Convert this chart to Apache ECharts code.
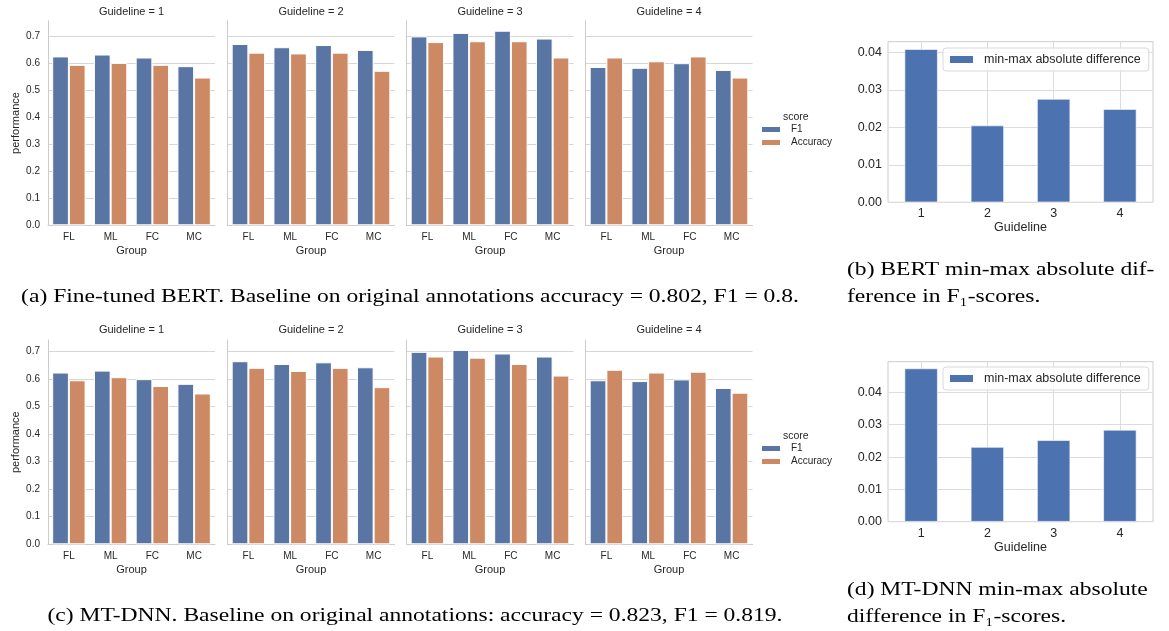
<!DOCTYPE html>
<html>
<head>
<meta charset="utf-8">
<script src="https://cdn.jsdelivr.net/npm/echarts@6/dist/echarts.min.js"></script>
<style>
html,body{margin:0;padding:0;background:#fff;}
#chart{width:1169px;height:631px;}
</style>
</head>
<body>
<div id="chart"></div>
<script>
// ---- data ----
const groups = ['FL', 'ML', 'FC', 'MC'];
const guidelines = ['1', '2', '3', '4'];
const seriesNames = ['F1', 'Accuracy'];
// rows: guideline 1..4, columns: FL, ML, FC, MC
const bertF1 = [
  [0.624, 0.631, 0.620, 0.588],
  [0.670, 0.658, 0.666, 0.648],
  [0.698, 0.711, 0.719, 0.690],
  [0.585, 0.582, 0.599, 0.574]
];
const bertAcc = [
  [0.593, 0.600, 0.593, 0.546],
  [0.638, 0.635, 0.638, 0.571],
  [0.677, 0.680, 0.680, 0.620],
  [0.620, 0.606, 0.624, 0.546]
];
const mtdnnF1 = [
  [0.623, 0.630, 0.599, 0.582],
  [0.664, 0.654, 0.660, 0.642],
  [0.698, 0.705, 0.692, 0.681],
  [0.595, 0.592, 0.598, 0.567]
];
const mtdnnAcc = [
  [0.595, 0.606, 0.574, 0.547],
  [0.640, 0.629, 0.640, 0.570],
  [0.681, 0.677, 0.654, 0.612],
  [0.633, 0.623, 0.626, 0.550]
];
const bertDiff = [0.0409, 0.0205, 0.0276, 0.0249];
const mtdnnDiff = [0.0474, 0.0231, 0.0252, 0.0284];
const diffName = 'min-max absolute difference';
const captionA = '(a) Fine-tuned BERT. Baseline on original annotations accuracy = 0.802, F1 = 0.8.';
const captionB = ['(b) BERT min-max absolute dif-', 'ference in F\u2081-scores.'];
const captionC = '(c) MT-DNN. Baseline on original annotations: accuracy = 0.823, F1 = 0.819.';
const captionD = ['(d) MT-DNN min-max absolute', 'difference in F\u2081-scores.'];

// ---- layout ----
const SANS = 'Liberation Sans, Arial, sans-serif';
const SERIF = 'Liberation Serif, Times New Roman, serif';
const TXT = '#262626';
const GRIDC = '#d6d6d6';
const BLUE = '#5975a4', ORANGE = '#cc8963', PBLUE = '#4c72b0';
const panelLefts = [48, 227.5, 406.5, 585.5];
const panelW = 167;
const rows = [
  {top: 20.7, bottom: 225.3, ymax: 0.756, f1: bertF1, acc: bertAcc, titleY: 12},
  {top: 340, bottom: 544.3, ymax: 0.741, f1: mtdnnF1, acc: mtdnnAcc, titleY: 330}
];
const right = [
  {top: 41.7, bottom: 202.3, ymax: 0.0429, data: bertDiff, legendTop: 48},
  {top: 361.7, bottom: 521.7, ymax: 0.0495, data: mtdnnDiff, legendTop: 367}
];

const grids = [], xAxes = [], yAxes = [], series = [], graphics = [], legends = [];
const isMult = (v, step) => Math.abs(v / step - Math.round(v / step)) < 1e-6;

rows.forEach((row, r) => {
  panelLefts.forEach((left, p) => {
    const gi = grids.length;
    grids.push({left: left, top: row.top, width: panelW, height: row.bottom - row.top, containLabel: false});
    xAxes.push({
      gridIndex: gi, type: 'category', data: groups,
      axisLine: {show: true, lineStyle: {color: '#cccccc', width: 1}},
      axisTick: {show: false},
      axisLabel: {fontSize: 10, color: TXT, fontFamily: SANS, margin: 7},
      splitLine: {show: false},
      name: 'Group', nameLocation: 'middle', nameGap: 20,
      nameTextStyle: {fontSize: 11, color: TXT, fontFamily: SANS}
    });
    yAxes.push({
      gridIndex: gi, type: 'value', min: 0, max: row.ymax, interval: 0.1,
      axisLine: {show: true, lineStyle: {color: '#cccccc', width: 1}},
      axisTick: {show: false},
      axisLabel: {show: p === 0, fontSize: 10, color: TXT, fontFamily: SANS, margin: 8,
        showMaxLabel: false,
        formatter: v => isMult(v, 0.1) ? v.toFixed(1) : ''},
      splitLine: {show: true, showMaxLine: false, lineStyle: {color: GRIDC, width: 1}},
      name: p === 0 ? 'performance' : '', nameLocation: 'middle', nameGap: 27,
      nameTextStyle: {fontSize: 11, color: TXT, fontFamily: SANS}
    });
    series.push({
      type: 'bar', name: seriesNames[0], xAxisIndex: gi, yAxisIndex: gi,
      data: row.f1[p], barGap: '0%', barCategoryGap: '20%',
      itemStyle: {color: BLUE, borderColor: '#ffffff', borderWidth: 1}
    });
    series.push({
      type: 'bar', name: seriesNames[1], xAxisIndex: gi, yAxisIndex: gi,
      data: row.acc[p], barGap: '0%', barCategoryGap: '20%',
      itemStyle: {color: ORANGE, borderColor: '#ffffff', borderWidth: 1}
    });
    graphics.push({
      type: 'text', x: left + panelW / 2, y: row.titleY,
      style: {text: 'Guideline = ' + guidelines[p], fontSize: 11, fontFamily: SANS, fill: TXT,
        align: 'center', verticalAlign: 'middle'}
    });
  });
  const legendTop = r === 0 ? 124.5 : 443.5;
  graphics.push({
    type: 'text', x: 783, y: r === 0 ? 117 : 436,
    style: {text: 'score', fontSize: 10.5, fontFamily: SANS, fill: TXT, align: 'left', verticalAlign: 'middle'}
  });
  legends.push({
    data: seriesNames, orient: 'vertical', left: 755, top: legendTop, padding: [0, 0, 0, 5],
    itemWidth: 20, itemHeight: 7, itemGap: 3, icon: 'rect', selectedMode: false,
    textStyle: {fontSize: 10, color: TXT, fontFamily: SANS, padding: [0, 0, 0, 5]}
  });
});

right.forEach((rc, k) => {
  const gi = grids.length;
  grids.push({left: 888, top: rc.top, width: 265, height: rc.bottom - rc.top, show: true,
    borderColor: '#cccccc', borderWidth: 1, backgroundColor: '#ffffff'});
  xAxes.push({
    gridIndex: gi, type: 'category', data: guidelines,
    axisLine: {show: false}, axisTick: {show: false},
    axisLabel: {fontSize: 12.5, color: TXT, fontFamily: SANS, margin: 5},
    splitLine: {show: true, alignWithLabel: true, lineStyle: {color: '#dcdcdc', width: 1}},
    name: 'Guideline', nameLocation: 'middle', nameGap: 18,
    nameTextStyle: {fontSize: 12.5, color: TXT, fontFamily: SANS}
  });
  yAxes.push({
    gridIndex: gi, type: 'value', min: 0, max: rc.ymax, interval: 0.01,
    axisLine: {show: false}, axisTick: {show: false},
    axisLabel: {fontSize: 12.5, color: TXT, fontFamily: SANS, margin: 6, showMaxLabel: false,
      formatter: v => isMult(v, 0.01) ? v.toFixed(2) : ''},
    splitLine: {show: true, showMaxLine: false, lineStyle: {color: '#dcdcdc', width: 1}}
  });
  series.push({
    type: 'bar', name: diffName, xAxisIndex: gi, yAxisIndex: gi, data: rc.data,
    barWidth: '50%', z: 3,
    itemStyle: {color: PBLUE, borderColor: '#ffffff', borderWidth: 0.6}
  });
  legends.push({
    data: [diffName], left: 943, top: rc.legendTop, padding: [5, 8, 5, 5],
    itemWidth: 25, itemHeight: 9, icon: 'rect', selectedMode: false,
    backgroundColor: 'rgba(255,255,255,0.85)', borderColor: '#d9d9d9', borderWidth: 1, borderRadius: 3,
    textStyle: {fontSize: 12.5, color: TXT, fontFamily: SANS, padding: [0, 0, 0, 5]}
  });
});

// captions
const capStyle = (text, align) => ({text: text, fontSize: 19, fontFamily: SERIF, fill: '#000000',
  align: align, verticalAlign: 'middle'});
const SX = 1.24;
graphics.push({type: 'text', x: 410, y: 297, scaleX: SX, style: capStyle(captionA, 'center')});
graphics.push({type: 'text', x: 847, y: 270, scaleX: SX, style: capStyle(captionB[0], 'left')});
graphics.push({type: 'text', x: 847, y: 297, scaleX: SX, style: capStyle(captionB[1], 'left')});
graphics.push({type: 'text', x: 415, y: 616, scaleX: SX, style: capStyle(captionC, 'center')});
graphics.push({type: 'text', x: 847, y: 590, scaleX: SX, style: capStyle(captionD[0], 'left')});
graphics.push({type: 'text', x: 847, y: 617, scaleX: SX, style: capStyle(captionD[1], 'left')});

const chart = echarts.init(document.getElementById('chart'), null, {renderer: 'canvas'});
chart.setOption({
  animation: false,
  backgroundColor: '#ffffff',
  grid: grids, xAxis: xAxes, yAxis: yAxes, series: series,
  legend: legends,
  graphic: graphics
});
</script>
</body>
</html>
